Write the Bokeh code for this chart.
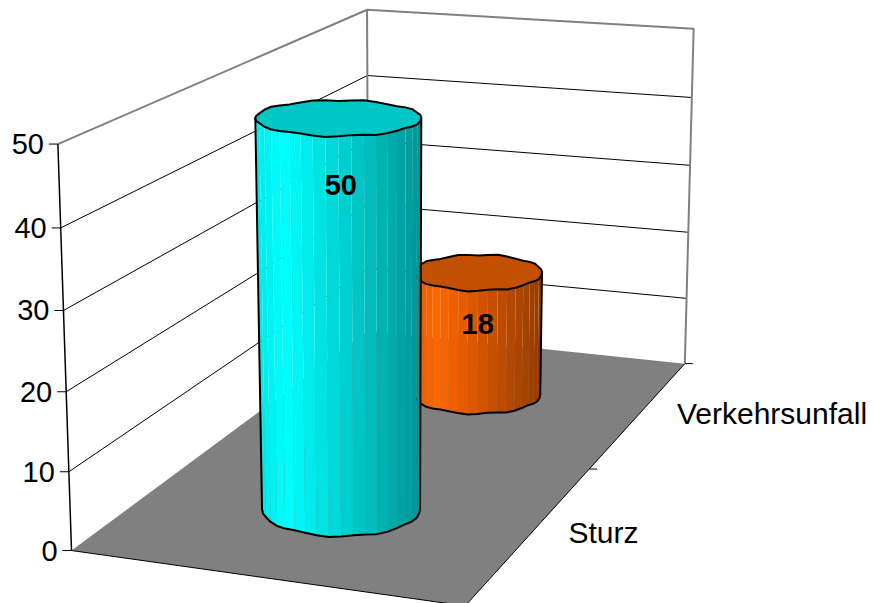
import numpy as np
from bokeh.core.properties import value
from bokeh.embed import file_html
from bokeh.models import Range1d
from bokeh.plotting import figure
from bokeh.resources import INLINE

# Chart content
categories = ["Sturz", "Verkehrsunfall"]
counts = [50, 18]
value_ticks = [0, 10, 20, 30, 40, 50]
side_colors = [(0, 255, 255), (255, 102, 0)]
cap_colors = ["#00C6C6", "#C25000"]
FONT = value("Liberation Sans")

# Camera calibration: world (across, depth, value) -> page pixels of the plot box corners
calib_world = [
    (0, 0, 0), (0, 0, 50), (0, 1, 0), (0, 1, 50),
    (1, 1, 0), (1, 1, 50), (1, 0, 0),
]
calib_page = [
    (72, 550), (57, 143), (367, 331), (367, 9),
    (685, 362), (693, 29), (464, 606),
]


def fit_camera(world, page):
    rows, rhs = [], []
    for (a, d, v), (sx, sy) in zip(world, page):
        rows.append([a, d, v, 1, 0, 0, 0, 0, -sx * a, -sx * d, -sx * v])
        rows.append([0, 0, 0, 0, a, d, v, 1, -sy * a, -sy * d, -sy * v])
        rhs += [sx, sy]
    sol = np.linalg.lstsq(np.array(rows, float), np.array(rhs, float), rcond=None)[0]
    return np.append(sol, 1.0).reshape(3, 4)


CAM = fit_camera(calib_world, calib_page)


def project(a, d, v):
    h = CAM @ np.array([a, d, v, 1.0])
    return h[0] / h[2], h[1] / h[2]


def line3d(*pts):
    xy = [project(*q) for q in pts]
    return [q[0] for q in xy], [q[1] for q in xy]


p = figure(
    width=873, height=603, output_backend="svg", toolbar_location=None,
    x_range=Range1d(0, 873), y_range=Range1d(603, 0),
    min_border=0, outline_line_color=None, background_fill_color="white",
)
p.xaxis.visible = False
p.yaxis.visible = False
p.grid.visible = False

# Floor
fx, fy = line3d((0, 0, 0), (0, 1, 0), (1, 1, 0), (1, 0, 0))
p.patch(fx, fy, fill_color="#808080", line_color=None)
ex, ey = line3d((0, 0, 0), (1, 0, 0))
p.line(ex, ey, line_color="black", line_width=1)
ex, ey = line3d((1, 1, 0), (1, 0, 0))
p.line(ex, ey, line_color="black", line_width=1)

# Gridlines over both walls
for v in value_ticks[1:-1]:
    gx, gy = line3d((0, 0, v), (0, 1, v), (1, 1, v))
    p.line(gx, gy, line_color="black", line_width=1)

# Wall frame
top = value_ticks[-1]
gx, gy = line3d((0, 0, top), (0, 1, top), (1, 1, top), (1, 1, 0))
p.line(gx, gy, line_color="#808080", line_width=2)
gx, gy = line3d((0, 1, top), (0, 1, 0))
p.line(gx, gy, line_color="#808080", line_width=2)
gx, gy = line3d((0, 0, top), (0, 0, 0))
p.line(gx, gy, line_color="black", line_width=1.5)

# Value axis ticks and labels
for v in value_ticks:
    sx, sy = project(0, 0, v)
    p.segment([sx - 9], [sy], [sx], [sy], line_color="black", line_width=1)
    p.text([sx - 14], [sy], text=[str(v)], text_align="right", text_baseline="middle",
           text_font=FONT, text_font_size="29px", text_color="black")

# Category axis ticks on the right edge of the floor
for d in (0.5, 1.0):
    sx, sy = project(1, d, 0)
    p.segment([sx], [sy], [sx + 8], [sy], line_color="black", line_width=1)

# Category labels sit beside the floor edge at the middle of each depth slot
cat_depths = [0.25, 0.75]
for cat, d in zip(categories, cat_depths):
    sx, sy = project(1, d, 0)
    p.text([sx + 37], [sy], text=[cat], text_align="left", text_baseline="middle",
           text_font=FONT, text_font_size="30px", text_color="black")

# Irregularities of the faceted rim, in multiples of rim_amp pixels
rim_wobble = [
    -0.6, 0.2, 0.8, 0.2, -0.8, -0.2, 0.6, 0.8, -0.4, -0.8,
    0.2, 1.0, 0.2, -0.6, -0.8, 0.2, 0.8, 0.4, -0.6, 0.2,
    -0.4, 0.4, 0.8, -0.2, -0.8, 0.0, 0.8, 0.4, -0.6, 0.0,
    0.8, 0.2, -0.8, -0.2, 0.6, 0.8, -0.2, -0.8, 0.2, -0.4,
]
N = len(rim_wobble)
rim_amp = 1.0

# Placement of each cylinder on the floor and its rim half-axes (top, bottom)
bar_across = [0.503, 0.522]
bar_depth = [0.246, 0.751]
rim_rx = [(83, 79), (64, 63)]
rim_ry = [(18, 27), (18, 19)]


def shade(rgb, t):
    # lit from the left: brightest a fifth of the way across, darkest on the right
    f = 0.90 + t / 0.18 * 0.10 if t < 0.18 else 1.0 - (t - 0.18) / 0.82 * 0.42
    return "#%02X%02X%02X" % tuple(int(round(c * f)) for c in rgb)


def rim(cx, cy, rx, ry):
    ang = 2 * np.pi * np.arange(N) / N
    w = rim_amp * np.array(rim_wobble)
    return np.column_stack([cx + rx * np.cos(ang), cy + ry * np.sin(ang) + w])


def cylinder(i):
    a, d, height = bar_across[i], bar_depth[i], counts[i]
    low = rim(*project(a, d, 0), rim_rx[i][1], rim_ry[i][1])
    up = rim(*project(a, d, height), rim_rx[i][0], rim_ry[i][0])
    rgb = side_colors[i]

    # Facets on the near half, i.e. the lower half of the rim on the page
    order = list(range(N // 2))
    quads = [np.array([low[k], low[k + 1], up[k + 1], up[k]]) for k in order]
    xmin = min(q[:, 0].min() for q in quads)
    xmax = max(q[:, 0].max() for q in quads)
    p.patches(
        [list(q[:, 0]) for q in quads],
        [list(q[:, 1]) for q in quads],
        fill_color=[shade(rgb, (q[:, 0].mean() - xmin) / (xmax - xmin)) for q in quads],
        line_color=None,
    )

    # Silhouette: down one side, along the near rim, up the other side
    chain = np.vstack([up[0], low[: N // 2 + 1], up[N // 2]])
    p.line(chain[:, 0], chain[:, 1], line_color="black", line_width=2, line_join="round")

    # Cap
    p.patch(up[:, 0], up[:, 1], fill_color=cap_colors[i], line_color="black",
            line_width=2, line_join="round")


# Back bar first so the front one overlaps it
for i in (1, 0):
    cylinder(i)

# Value labels on the cylinder fronts, at a share of each bar's height
label_share = [0.835, 0.58]
label_dx = [2, 0]
for i in range(2):
    sx, sy = project(bar_across[i], bar_depth[i], counts[i] * label_share[i])
    p.text([sx + label_dx[i]], [sy], text=[str(counts[i])], text_align="center", text_baseline="middle",
           text_font=FONT, text_font_size="29px", text_font_style="bold", text_color="black")

open("out.html", "w").write(file_html(p, INLINE))
